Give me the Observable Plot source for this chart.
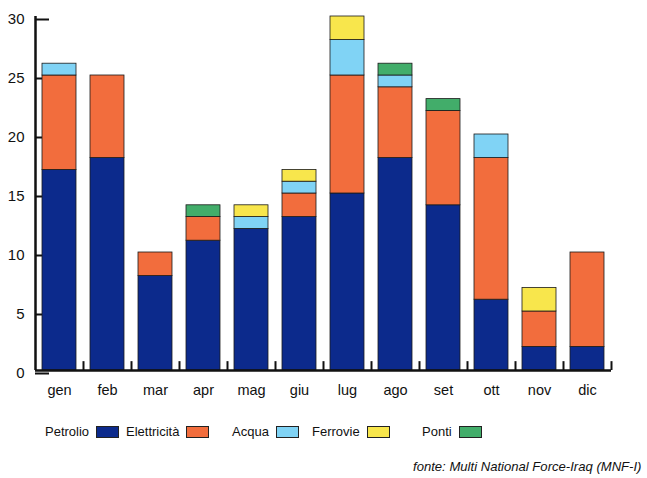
<!DOCTYPE html>
<html>
<head>
<meta charset="utf-8">
<script src="https://cdn.jsdelivr.net/npm/d3@7"></script>
<script src="https://cdn.jsdelivr.net/npm/@observablehq/plot@0.6"></script>
<style>
  html, body { margin: 0; padding: 0; background: #fff; }
  body { width: 647px; height: 478px; position: relative; overflow: hidden; font-family: "Liberation Sans", Arial, sans-serif; }
  #chart { position: absolute; left: 0; top: 0; }
  .legend { position: absolute; left: 0; top: 424px; width: 647px; height: 20px; font-size: 13px; color: #111; }
  .legend span.item { position: absolute; top: 0; display: flex; align-items: center; gap: 7px; white-space: nowrap; }
  .legend span.sw { display: inline-block; width: 23px; height: 12px; border: 1px solid #222; box-sizing: border-box; }
  .caption { position: absolute; left: 413px; top: 459px; font-size: 13.1px; font-style: italic; color: #111; white-space: nowrap; }
</style>
</head>
<body>
<div id="chart"></div>
<div class="legend" id="legend"></div>
<div class="caption">fonte: Multi National Force-Iraq (MNF-I)</div>
<script>
const months = ["gen", "feb", "mar", "apr", "mag", "giu", "lug", "ago", "set", "ott", "nov", "dic"];
const seriesNames = ["Petrolio", "Elettricità", "Acqua", "Ferrovie", "Ponti"];
const petrolio    = [17, 18, 8, 11, 12, 13, 15, 18, 14, 6, 2, 2];
const elettricita = [8, 7, 2, 2, 0, 2, 10, 6, 8, 12, 3, 8];
const acqua       = [1, 0, 0, 0, 1, 1, 3, 1, 0, 2, 0, 0];
const ferrovie    = [0, 0, 0, 0, 1, 1, 2, 0, 0, 0, 2, 0];
const ponti       = [0, 0, 0, 1, 0, 0, 0, 1, 1, 0, 0, 0];
const yTicks = [0, 5, 10, 15, 20, 25, 30];
const colors = ["#0c2a8c", "#f26d3d", "#80d3f5", "#f8e64c", "#42ad6a"];

const seriesValues = [petrolio, elettricita, acqua, ferrovie, ponti];
const rows = [];
seriesValues.forEach((vals, s) => {
  vals.forEach((v, i) => {
    if (v > 0) rows.push({month: months[i], series: seriesNames[s], value: v});
  });
});

const chart = Plot.plot({
  width: 647,
  height: 410,
  marginLeft: 35,
  marginRight: 36,
  marginTop: 16,
  marginBottom: 40,
  style: {fontFamily: "'Liberation Sans', Arial, sans-serif", color: "#111", background: "white"},
  x: {domain: months, paddingInner: 0.29, paddingOuter: 0.145, label: null},
  y: {domain: [0, 30], label: null},
  color: {domain: seriesNames, range: colors},
  marks: [
    Plot.axisY({ticks: yTicks, tickSize: -14, tickPadding: 25, fontSize: 15, strokeWidth: 2, dy: 3, label: null}),
    Plot.ruleX(months, {x: d => d, y1: 0, y2: 0.75, dx: 24, strokeWidth: 2, stroke: "#111"}),
    Plot.barY(rows, {x: "month", y: "value", fill: "series", stroke: "#1a1a1a", strokeWidth: 0.8}),
    Plot.axisX({tickSize: 0, tickPadding: 14, fontSize: 14.5, label: null}),
    Plot.ruleY([0], {strokeWidth: 2.5, stroke: "#111"}),
    Plot.ruleX(["gen"], {x: d => d, y1: 0, y2: 30, dx: -24, strokeWidth: 2.5, stroke: "#111"})
  ]
});
document.getElementById("chart").appendChild(chart);

const legendLeft = [45, 126, 232, 312, 422];
const legend = document.getElementById("legend");
seriesNames.forEach((name, i) => {
  const item = document.createElement("span");
  item.className = "item";
  item.style.left = legendLeft[i] + "px";
  const label = document.createElement("span");
  label.textContent = name;
  const sw = document.createElement("span");
  sw.className = "sw";
  sw.style.background = colors[i];
  item.appendChild(label);
  item.appendChild(sw);
  legend.appendChild(item);
});
</script>
</body>
</html>
